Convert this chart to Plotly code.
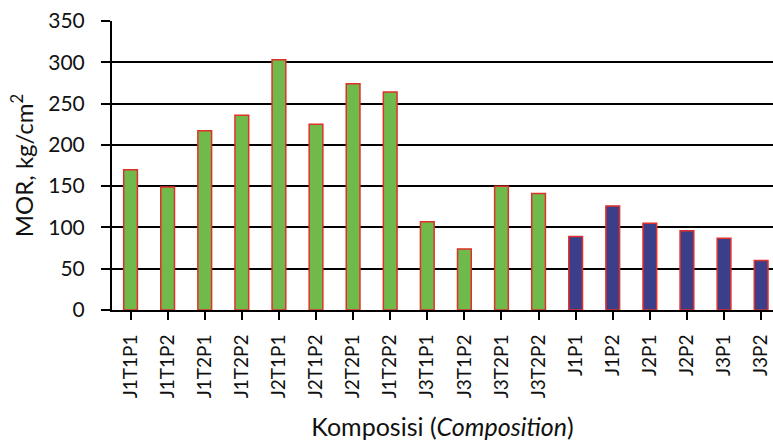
import plotly.graph_objects as go

categories = ["J1T1P1", "J1T1P2", "J1T2P1", "J1T2P2", "J2T1P1", "J2T1P2", "J2T2P1", "J1T2P2",
              "J3T1P1", "J3T1P2", "J3T2P1", "J3T2P2", "J1P1", "J1P2", "J2P1", "J2P2", "J3P1", "J3P2"]
mor_values = [170, 149, 217, 236, 303, 225, 274, 264, 107, 74, 150, 141, 89, 126, 105, 96, 87, 60]
group_colors = ["#70b94b"] * 12 + ["#3b3f8a"] * 6
y_ticks = [0, 50, 100, 150, 200, 250, 300, 350]

font_family = "Lato, 'Open Sans', sans-serif"

fig = go.Figure(go.Bar(
    x=list(range(len(categories))),
    y=mor_values,
    marker=dict(color=group_colors, line=dict(color="#e0302a", width=1.5)),
    width=0.37,
))

fig.update_layout(
    width=773, height=441,
    margin=dict(l=112, r=0, t=21, b=131),
    plot_bgcolor="white", paper_bgcolor="white",
    showlegend=False,
    font=dict(family=font_family, color="#111111"),
)
fig.update_xaxes(
    automargin=False,
    tickmode="array",
    tickvals=list(range(len(categories))),
    ticktext=categories,
    range=[-0.5, 17.32],
    tickangle=-90,
    tickfont=dict(size=19),
    ticklabelstandoff=7,
    showline=True, linecolor="black", linewidth=2,
    ticks="outside", ticklen=8, tickcolor="black", tickwidth=2,
    tickson="boundaries",
    showgrid=False,
    title=dict(text="Komposisi (<i>Composition</i>)", font=dict(size=25), standoff=22),
)
fig.update_yaxes(
    automargin=False,
    range=[0, 350],
    tickmode="array", tickvals=y_ticks,
    tickfont=dict(size=21),
    ticklabelstandoff=12,
    showline=True, linecolor="black", linewidth=2,
    ticks="outside", ticklen=9, tickcolor="black", tickwidth=2,
    showgrid=True, gridcolor="black", gridwidth=2,
    zeroline=False,
    title=dict(text="MOR, kg/cm<sup>2</sup>", font=dict(size=24), standoff=8),
)

fig.write_html(
    "out.html",
    config={"displayModeBar": False},
    post_script="document.body.style.margin='0';document.body.style.overflow='hidden';",
)
